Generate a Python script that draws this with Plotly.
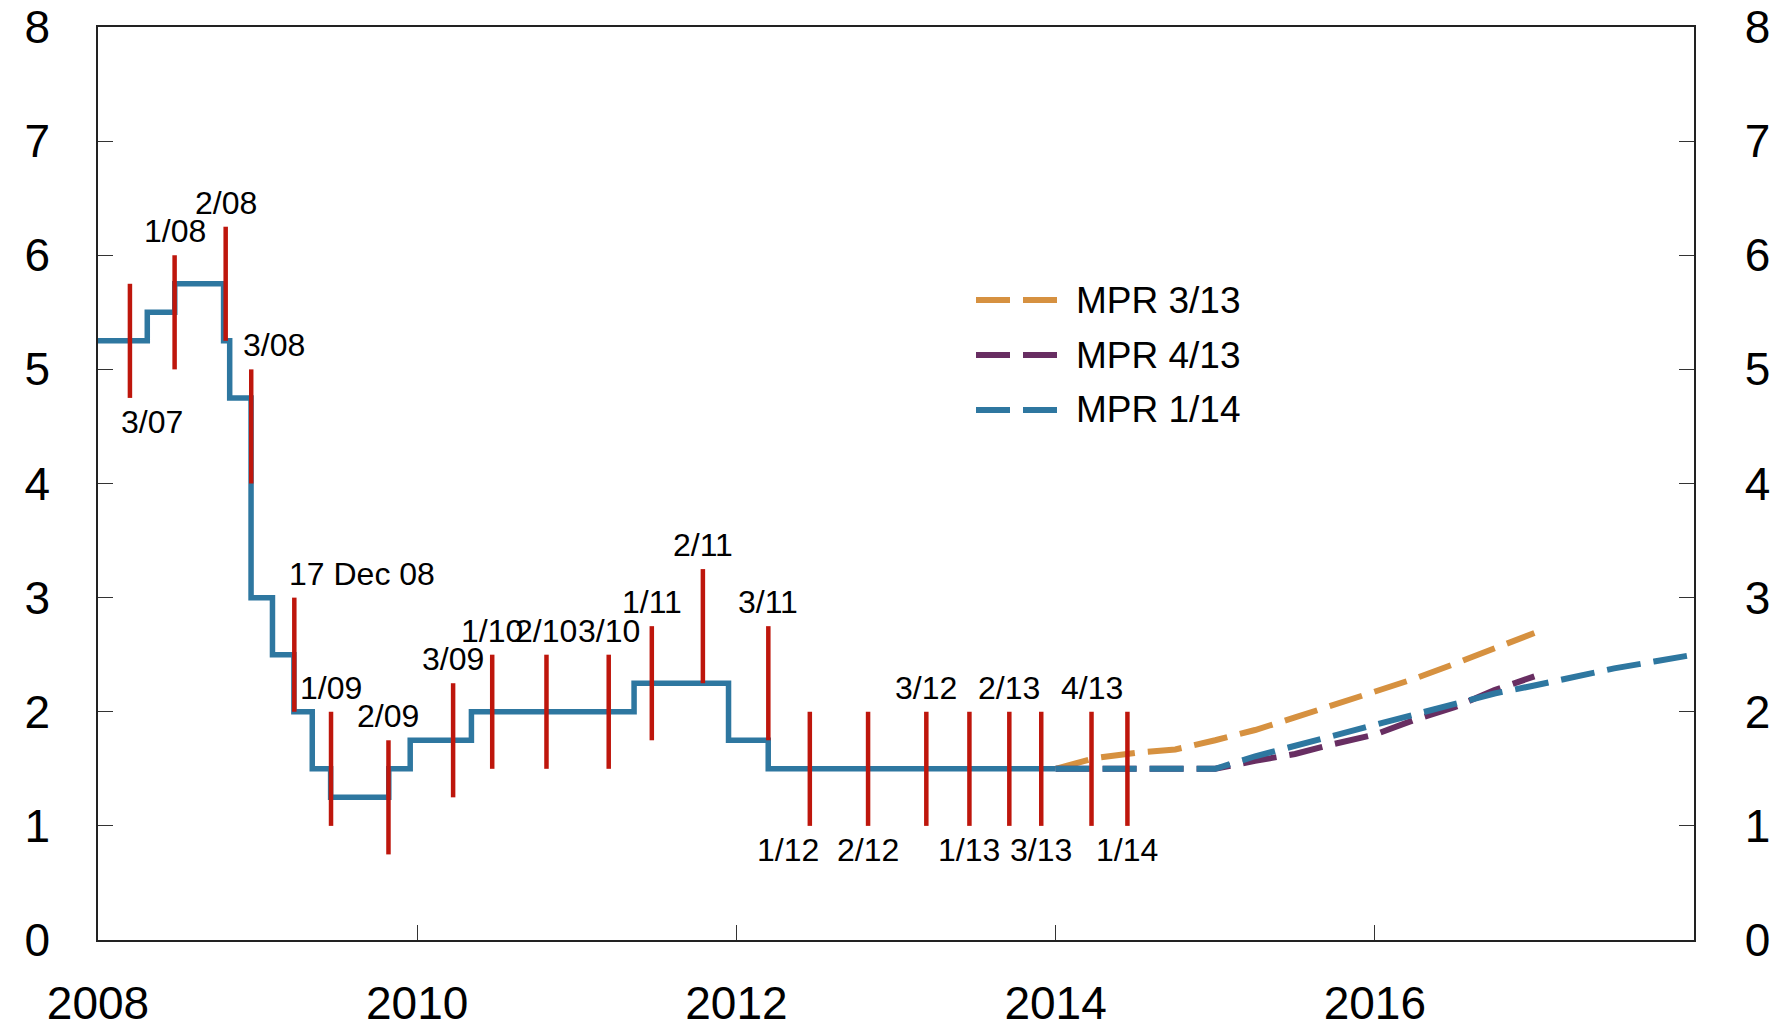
import plotly.graph_objects as go
from datetime import date

# ---------------- data ----------------
RATE_DATES = ["2008-01-01", "2008-04-23", "2008-06-25", "2008-10-15", "2008-10-29",
              "2008-12-17", "2009-02-04", "2009-03-25", "2009-05-06", "2009-06-17",
              "2009-10-28", "2009-12-16", "2010-05-05", "2011-05-12", "2011-12-14",
              "2012-03-14", "2014-01-01"]
RATE_VALUES = [5.25, 5.50, 5.75, 5.25, 4.75, 3.00, 2.50, 2.00, 1.50, 1.25,
               1.50, 1.75, 2.00, 2.25, 1.75, 1.50, 1.50]

REPORT_LABELS = ["3/07", "1/08", "2/08", "3/08", "17 Dec 08", "1/09", "2/09", "3/09",
                 "1/10", "2/10", "3/10", "1/11", "2/11", "3/11", "1/12", "2/12",
                 "3/12", "1/13", "2/13", "3/13", "4/13", "1/14"]
REPORT_X = [2008.20, 2008.48, 2008.80, 2008.96, 2009.23, 2009.46, 2009.82, 2010.225,
            2010.47, 2010.81, 2011.20, 2011.47, 2011.79, 2012.20, 2012.46, 2012.825,
            2013.19, 2013.46, 2013.71, 2013.91, 2014.225, 2014.45]
REPORT_LOW = [4.75, 5.00, 5.25, 4.00, 2.00, 1.00, 0.75, 1.25, 1.50, 1.50, 1.50, 1.75,
              2.25, 1.75, 1.00, 1.00, 1.00, 1.00, 1.00, 1.00, 1.00, 1.00]
REPORT_HIGH = [5.75, 6.00, 6.25, 5.00, 3.00, 2.00, 1.75, 2.25, 2.50, 2.50, 2.50, 2.75,
               3.25, 2.75, 2.00, 2.00, 2.00, 2.00, 2.00, 2.00, 2.00, 2.00]

MPR313_X = [2014.0, 2014.25, 2014.5, 2014.75, 2015.0, 2015.25, 2015.5, 2015.75,
            2016.0, 2016.25, 2016.5, 2016.75, 2017.0]
MPR313_Y = [1.50, 1.595, 1.64, 1.67, 1.75, 1.84, 1.95, 2.06, 2.17, 2.29, 2.42, 2.55, 2.69]

MPR413_X = [2014.0, 2014.25, 2014.5, 2014.75, 2015.0, 2015.25, 2015.5, 2015.75,
            2016.0, 2016.25, 2016.5, 2016.75, 2017.0]
MPR413_Y = [1.50, 1.50, 1.50, 1.50, 1.50, 1.57, 1.63, 1.72, 1.80, 1.93, 2.04, 2.19, 2.31]

MPR114_X = [2014.0, 2014.25, 2014.5, 2014.75, 2015.0, 2015.25, 2015.5, 2015.75,
            2016.0, 2016.25, 2016.5, 2016.75, 2017.0, 2017.25, 2017.5, 2017.75, 2018.0]
MPR114_Y = [1.50, 1.50, 1.50, 1.50, 1.50, 1.61, 1.70, 1.80, 1.89, 1.98, 2.07, 2.16,
            2.23, 2.31, 2.38, 2.44, 2.50]

SERIES_NAMES = ["MPR 3/13", "MPR 4/13", "MPR 1/14"]
X_TICKS = [2008, 2010, 2012, 2014, 2016]
Y_TICKS = [0, 1, 2, 3, 4, 5, 6, 7, 8]

# ---------------- style ----------------
BLUE = "#2E77A0"
ORANGE = "#D69140"
PURPLE = "#682E62"
RED = "#BE160C"
FONT = "Liberation Sans, Arial, Helvetica, sans-serif"
DASH = "34px,13px"

# label side (+1 above bar, -1 below) and horizontal nudge in px
LABEL_SIDE = [-1, 1, 1, 1, 1, 1, 1, 1, 1, 1, 1, 1, 1, 1, -1, -1, 1, -1, 1, -1, 1, -1]
LABEL_XSHIFT = {"3/07": 22, "3/08": 23, "1/12": -22}


def dec_year(s):
    d = date.fromisoformat(s)
    start = date(d.year, 1, 1)
    end = date(d.year + 1, 1, 1)
    return d.year + (d - start).days / (end - start).days


rate_x = [dec_year(s) for s in RATE_DATES]

fig = go.Figure()

fig.add_trace(go.Scatter(x=MPR313_X, y=MPR313_Y, mode="lines", name=SERIES_NAMES[0],
                         line=dict(color=ORANGE, width=6, dash=DASH), showlegend=False))
fig.add_trace(go.Scatter(x=MPR413_X, y=MPR413_Y, mode="lines", name=SERIES_NAMES[1],
                         line=dict(color=PURPLE, width=6, dash=DASH), showlegend=False))
fig.add_trace(go.Scatter(x=MPR114_X, y=MPR114_Y, mode="lines", name=SERIES_NAMES[2],
                         line=dict(color=BLUE, width=6, dash=DASH), showlegend=False))
fig.add_trace(go.Scatter(x=rate_x, y=RATE_VALUES, mode="lines", line_shape="hv",
                         line=dict(color=BLUE, width=5.5), showlegend=False))

bx, by = [], []
for x, lo, hi in zip(REPORT_X, REPORT_LOW, REPORT_HIGH):
    bx += [x, x, None]
    by += [lo, hi, None]
fig.add_trace(go.Scatter(x=bx, y=by, mode="lines", line=dict(color=RED, width=4.5),
                         showlegend=False))

# invisible trace for the right axis
fig.add_trace(go.Scatter(x=[2008], y=[0], yaxis="y2", mode="markers",
                         marker=dict(opacity=0), showlegend=False, hoverinfo="skip"))

annotations = []
for lab, x, lo, hi, side in zip(REPORT_LABELS, REPORT_X, REPORT_LOW, REPORT_HIGH, LABEL_SIDE):
    a = dict(text=lab, x=x, y=hi if side > 0 else lo, xref="x", yref="y",
             showarrow=False, yanchor="middle", yshift=24 * side,
             font=dict(family=FONT, size=32, color="black"))
    if lab == "17 Dec 08":
        a.update(xanchor="left", xshift=-7)
    else:
        a.update(xanchor="center", xshift=LABEL_XSHIFT.get(lab, 0))
    annotations.append(a)

# custom legend (paper coordinates)
PL, PR, PT, PB = 98, 1694, 27, 940
def px(x):
    return (x - PL) / (PR - PL)
def py(y):
    return (PB - y) / (PB - PT)

shapes = []
for i, (name, col) in enumerate(zip(SERIES_NAMES, [ORANGE, PURPLE, BLUE])):
    yy = 300 + 55 * i
    shapes.append(dict(type="line", xref="paper", yref="paper",
                       x0=px(976), x1=px(1057), y0=py(yy), y1=py(yy),
                       line=dict(color=col, width=6, dash=DASH)))
    annotations.append(dict(text=name, xref="paper", yref="paper", x=px(1074), y=py(yy),
                            xanchor="left", yanchor="middle", showarrow=False,
                            font=dict(family=FONT, size=37, color="black")))

axis_common = dict(ticks="inside", ticklen=15, tickwidth=1.2, tickcolor="#333",
                   showline=True, linecolor="#222", linewidth=1.6, showgrid=False,
                   zeroline=False, automargin=False,
                   tickfont=dict(family=FONT, size=46, color="black"))

fig.update_layout(
    width=1778, height=1029,
    margin=dict(l=PL, r=1778 - PR, t=PT, b=1029 - PB, autoexpand=False),
    paper_bgcolor="white", plot_bgcolor="white",
    showlegend=False,
    hovermode=False,
    xaxis=dict(range=[2008, 2018], tickvals=X_TICKS, ticktext=[str(v) for v in X_TICKS],
               mirror=True, ticklabelstandoff=22, **axis_common),
    yaxis=dict(range=[0, 8], tickvals=Y_TICKS, side="left", ticklabelstandoff=37,
               **axis_common),
    yaxis2=dict(range=[0, 8], tickvals=Y_TICKS, side="right", overlaying="y",
                ticklabelstandoff=40, **axis_common),
    annotations=annotations,
    shapes=shapes,
)

fig.write_html("out.html",
               config={"displayModeBar": False, "staticPlot": True},
               post_script="document.body.style.margin='0';"
                           "document.body.style.overflow='hidden';")
